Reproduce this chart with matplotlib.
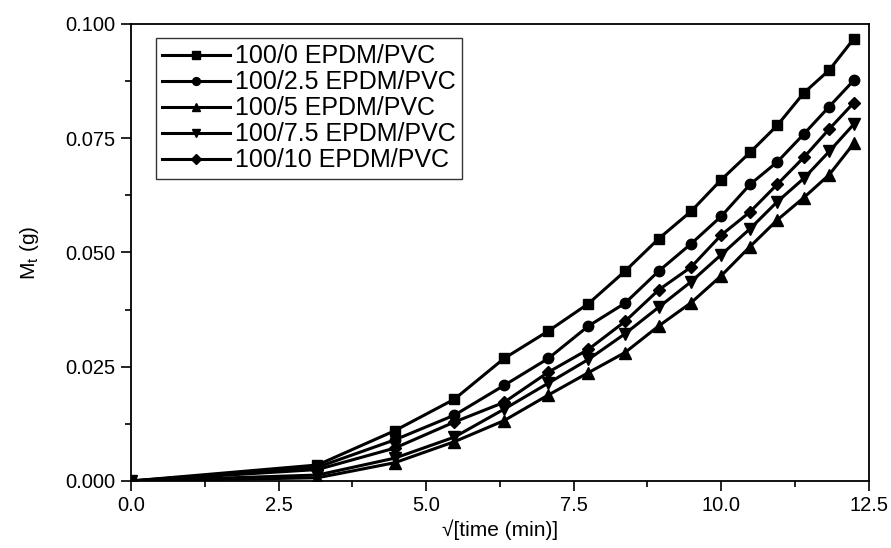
import numpy as np
import matplotlib.pyplot as plt
from matplotlib.ticker import MultipleLocator

plt.rcParams['font.family'] = ['Liberation Sans', 'DejaVu Sans']

# square root of time (min^0.5)
sqrt_t = [0, 3.16, 4.47, 5.48, 6.32, 7.07, 7.75, 8.37, 8.94, 9.49,
          10.0, 10.49, 10.95, 11.40, 11.83, 12.25]

# mass uptake Mt (g) for each blend
m_100_0 = [0, 0.0035, 0.0110, 0.0179, 0.0268, 0.0328, 0.0388, 0.0459, 0.0530, 0.0590,
           0.0659, 0.0719, 0.0778, 0.0849, 0.0899, 0.0968]
m_100_25 = [0, 0.0030, 0.0090, 0.0144, 0.0209, 0.0268, 0.0339, 0.0389, 0.0459, 0.0519,
            0.0579, 0.0649, 0.0698, 0.0759, 0.0819, 0.0877]
m_100_5 = [0, 0.0007, 0.0040, 0.0086, 0.0132, 0.0188, 0.0237, 0.0281, 0.0339, 0.0390,
           0.0449, 0.0513, 0.0571, 0.0620, 0.0670, 0.0739]
m_100_75 = [0, 0.0013, 0.0050, 0.0096, 0.0157, 0.0214, 0.0266, 0.0322, 0.0380, 0.0436,
            0.0495, 0.0552, 0.0611, 0.0662, 0.0721, 0.0781]
m_100_10 = [0, 0.0025, 0.0072, 0.0129, 0.0172, 0.0238, 0.0288, 0.0349, 0.0418, 0.0468,
            0.0538, 0.0589, 0.0649, 0.0708, 0.0770, 0.0828]

labels = ['100/0 EPDM/PVC', '100/2.5 EPDM/PVC', '100/5 EPDM/PVC',
          '100/7.5 EPDM/PVC', '100/10 EPDM/PVC']
series = [m_100_0, m_100_25, m_100_5, m_100_75, m_100_10]
markers = ['s', 'o', '^', 'v', 'D']
sizes = [7, 7.5, 8, 8, 6.5]

fig = plt.figure(figsize=(8.91, 5.48), dpi=100)
ax = fig.add_axes([0.147, 0.1223, 0.828, 0.834])

for y, lab, mk, ms in zip(series, labels, markers, sizes):
    ax.plot(sqrt_t, y, color='black', linewidth=2.2, marker=mk, markersize=ms, label=lab)

ax.set_xlim(0, 12.5)
ax.set_ylim(0, 0.1)
ax.xaxis.set_major_locator(MultipleLocator(2.5))
ax.xaxis.set_minor_locator(MultipleLocator(1.25))
ax.yaxis.set_major_locator(MultipleLocator(0.025))
ax.yaxis.set_minor_locator(MultipleLocator(0.0125))
ax.xaxis.set_major_formatter(plt.FormatStrFormatter('%.1f'))
ax.yaxis.set_major_formatter(plt.FormatStrFormatter('%.3f'))
ax.tick_params(which='major', direction='out', length=7, width=1.2, labelsize=14.5, pad=4)
ax.tick_params(which='minor', direction='out', length=4, width=1.2)
for sp in ax.spines.values():
    sp.set_linewidth(1.3)

ax.set_xlabel('√[time (min)]', fontsize=15, labelpad=3)
ax.set_ylabel('M$_\\mathregular{t}$ (g)', fontsize=15, labelpad=18)

leg = ax.legend(loc='upper left', bbox_to_anchor=(0.034, 0.969), fontsize=18,
                frameon=True, fancybox=False, edgecolor='black', handlelength=2.7,
                labelspacing=0.08, borderpad=0.25, borderaxespad=0, handletextpad=0.2,
                markerscale=0.75)
leg.get_frame().set_linewidth(1.0)

fig.savefig('out.png', dpi=100)
